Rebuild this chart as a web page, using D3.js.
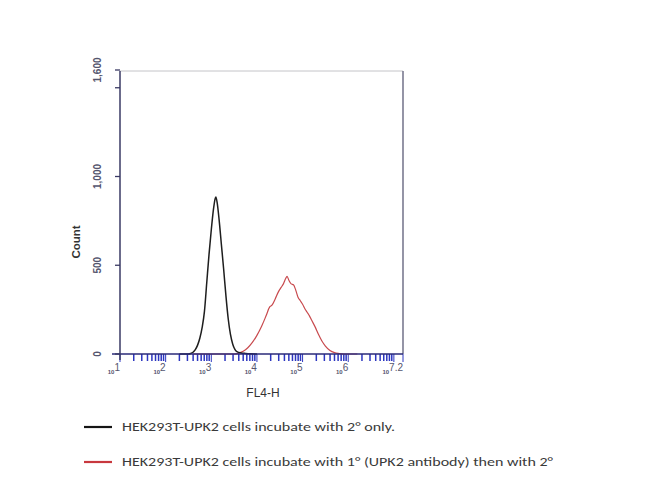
<!DOCTYPE html>
<html><head><meta charset="utf-8">
<script src="https://cdn.jsdelivr.net/npm/d3@7/dist/d3.min.js"></script>
<style>body{margin:0;background:#fff}svg{display:block}</style>
</head><body>
<svg id="c" width="650" height="496"></svg>
<script>
// Data: x as log10(FL4-H), y as Count
const blackExp = [2.30,2.50,2.55,2.60,2.65,2.70,2.75,2.80,2.85,2.90,2.95,3.00,3.05,3.08,3.10,3.13,3.17,3.22,3.27,3.32,3.37,3.42,3.47,3.52,3.57,3.65,3.75,3.85,4.00];
const blackCount = [0,0,3,10,25,50,90,150,240,400,560,700,820,870,885,850,760,620,480,330,200,110,55,25,12,6,3,1,0];
const redExp = [2.60,3.50,3.60,3.70,3.80,3.90,4.00,4.10,4.20,4.28,4.33,4.40,4.47,4.53,4.58,4.63,4.66,4.70,4.75,4.80,4.85,4.90,4.95,5.00,5.05,5.10,5.15,5.20,5.28,5.35,5.42,5.50,5.60,5.70,5.80,5.90,6.20];
const redCount = [0,0,5,15,35,65,105,155,215,265,275,310,350,375,395,425,437,415,395,390,360,320,300,280,255,235,215,190,150,110,75,45,20,8,3,0,0];
const xTickExps = [1,2,3,4,5,6];
const xTickLabels = ["1","2","3","4","5","6","7.2"];
const yTicks = [0,500,1000,1500,1600];
const yTickLabels = {0:"0",500:"500",1000:"1,000",1600:"1,600"};
const legendItems = [
  {label:"HEK293T-UPK2 cells incubate with 2\u00b0 only.", color:"#151515", w:273},
  {label:"HEK293T-UPK2 cells incubate with 1\u00b0 (UPK2 antibody) then with 2\u00b0", color:"#c8383e", w:431}
];

const L=120, R=403, T=70, B=354;
const svg = d3.select("#c");
const x = d3.scaleLog().domain([10, Math.pow(10,7.2)]).range([L,R]);
const y = d3.scaleLinear().domain([0,1600]).range([B,T]);

// frame top/right
svg.append("line").attr("x1",L).attr("x2",R).attr("y1",T+1).attr("y2",T+1).attr("stroke","#c4c4c8").attr("stroke-width",1);
svg.append("line").attr("x1",R).attr("x2",R).attr("y1",T+1).attr("y2",B).attr("stroke","#7a7a90").attr("stroke-width",1.6);

// x minor ticks
const minor = [];
for (let e=1;e<7.2;e++){ for(let m=1;m<10;m++){ const v=m*Math.pow(10,e); if (v<=Math.pow(10,7.2)) minor.push({v, major:m===1}); } }
svg.append("g").selectAll("line").data(minor).join("line")
  .attr("x1",d=>x(d.v)).attr("x2",d=>x(d.v))
  .attr("y1",B).attr("y2",d=>d.major?B+8:B+7)
  .attr("stroke","#2c36c0").attr("stroke-width",d=>d.major?1:1.5);
svg.append("line").attr("x1",R).attr("x2",R).attr("y1",B).attr("y2",B+8).attr("stroke","#2c36c0").attr("stroke-width",1);

// curves
const line = d3.line().x(d=>x(Math.pow(10,d[0]))).y(d=>y(d[1])).curve(d3.curveMonotoneX);
svg.append("path").datum(redExp.map((e,i)=>[e,redCount[i]])).attr("d",line)
  .attr("fill","none").attr("stroke","#c84a4e").attr("stroke-width",1.2);
svg.append("path").datum(blackExp.map((e,i)=>[e,blackCount[i]])).attr("d",line)
  .attr("fill","none").attr("stroke","#1e1e1e").attr("stroke-width",1.5);

// x axis line
svg.append("line").attr("x1",112).attr("x2",R).attr("y1",B).attr("y2",B).attr("stroke","#2a2a78").attr("stroke-width",1.5);
// y axis line
svg.append("line").attr("x1",L).attr("x2",L).attr("y1",T+1).attr("y2",B+6).attr("stroke","#3a3a64").attr("stroke-width",1.5);

// y ticks
svg.append("g").selectAll("line").data(yTicks).join("line")
  .attr("x1",L-5).attr("x2",L).attr("y1",d=>y(d)).attr("y2",d=>y(d))
  .attr("stroke","#3a3a64").attr("stroke-width",1.3);
svg.append("g").selectAll("text").data(yTicks.filter(d=>yTickLabels[d]!==undefined)).join("text")
  .attr("transform",d=>`translate(101,${y(d)}) rotate(-90)`)
  .attr("text-anchor","middle")
  .attr("font-family","Liberation Sans, Arial, sans-serif").attr("font-size",10).attr("font-weight","bold")
  .attr("fill","#55556e").text(d=>yTickLabels[d]);

// x tick labels
const xLab = svg.append("g");
const xTickVals = xTickExps.concat([7.2]);
xTickVals.forEach((e,i)=>{
  const t = xLab.append("text").attr("x",x(Math.pow(10,e))).attr("y",B+20)
    .attr("text-anchor","end").attr("font-family","Liberation Sans, Arial, sans-serif")
    .attr("fill","#55556e").attr("font-weight","bold");
  t.append("tspan").attr("font-size",6).text("10");
  t.append("tspan").attr("font-size",10).attr("dy",-3).attr("font-weight","normal").text(xTickLabels[i]);
});

// axis titles
svg.append("text").attr("x",263).attr("y",397).attr("text-anchor","middle")
  .attr("font-family","Liberation Sans, Arial, sans-serif").attr("font-size",12).attr("fill","#333").text("FL4-H");
svg.append("text").attr("transform","translate(80,242) rotate(-90)").attr("text-anchor","middle")
  .attr("font-family","Liberation Sans, Arial, sans-serif").attr("font-size",11.5).attr("font-weight","bold").attr("fill","#333").text("Count");

// legend
const lg = svg.append("g");
legendItems.forEach((d,i)=>{
  const yy = 427 + i*35;
  lg.append("line").attr("x1",84).attr("x2",112).attr("y1",yy).attr("y2",yy).attr("stroke",d.color).attr("stroke-width",2.2);
  lg.append("text").attr("x",122).attr("y",yy+4).attr("font-family","Carlito, Liberation Sans, Arial, sans-serif")
    .attr("font-size",11.5).attr("fill","#3a3a3a").attr("textLength",d.w).attr("lengthAdjust","spacingAndGlyphs").text(d.label);
});
</script>
</body></html>
